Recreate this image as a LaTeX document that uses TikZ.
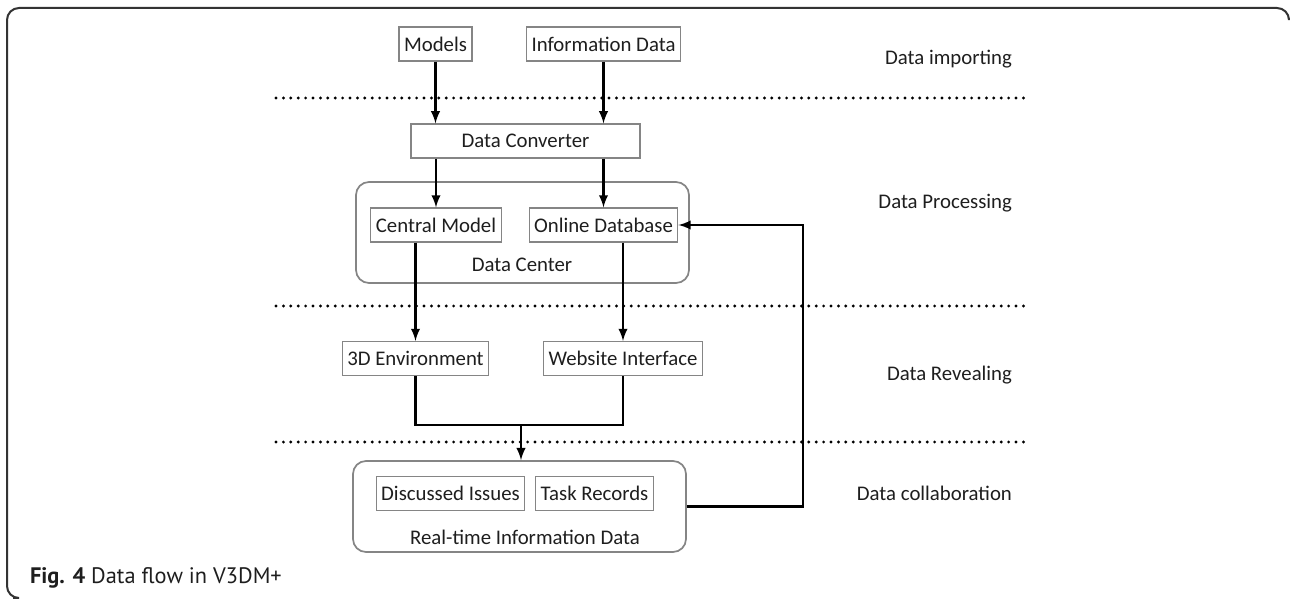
\documentclass[tikz,border=0pt]{standalone}
\usepackage{fontspec}
\setmainfont{Carlito}
\newfontfamily\capfont{PT Sans}
\usepackage{tikz}
\usetikzlibrary{arrows,shapes}
\definecolor{boxgray}{HTML}{858585}
\definecolor{txtgray}{HTML}{1E1E1E}
\tikzstyle{block}=[draw=boxgray,line width=0.55pt,minimum height=17pt,inner xsep=2.5pt,text=txtgray,font=\fontsize{10.4}{12}\selectfont]
\tikzstyle{group}=[draw=boxgray,line width=0.85pt,rounded corners=6.5pt]
\tikzstyle{caption}=[text=txtgray,font=\fontsize{10.4}{12}\selectfont]
\tikzstyle{link} = [draw,line width=1.1pt,-latex]
\tikzstyle{divider} = [draw,line width=1.6pt,dash pattern=on 0pt off 3.7pt,line cap=round]

\begin{document}
\begin{tikzpicture}[x=0.5pt,y=-0.5pt]
    \useasboundingbox (0,0) rectangle (1290,599);
    % Outer frame of the figure
    \draw[line width=1pt,black!80,rounded corners=6pt] (13,598) -- (7,598) -- (7,8) -- (1289,8) -- (1289,18);
    % Layer separators and layer names
    \foreach \y in {98,306,442}
        \path[divider] (276,\y) -- (1027,\y);
    \foreach \y/\txt in {59/Data importing, 203/Data Processing, 375/Data Revealing, 493/Data collaboration}
        \node[caption,anchor=east] (phase\y) at (1019,\y) {\txt};
    % Rounded containers first
    \node[group,minimum width=166.5pt,minimum height=50.5pt] (dc) at (522.5,232.5) {};
    \node[group,minimum width=166.5pt,minimum height=45.5pt] (rt) at (519.5,506.5) {};
    \node[caption] (dclabel) at (522,265) {Data Center};
    \node[caption] (rtlabel) at (525,537) {Real-time Information Data};
    % Then the boxes
    \foreach \pos/\name/\txt in {{(435.5,44)/models/Models}, {(603.5,44)/info/Information Data},
        {(436,225)/cmodel/Central Model}, {(603.5,225)/odb/Online Database},
        {(415.5,358.5)/env/3D Environment}, {(623,358.5)/web/Website Interface},
        {(450.5,493.5)/issues/Discussed Issues}, {(594.5,493.5)/tasks/Task Records}}
        \node[block] (\name) at \pos {\txt};
    \node[block,minimum width=114.5pt] (conv) at (525.5,141) {Data Converter};
    % Connect boxes with arrows
    \foreach \source/\dest in {models/conv, info/conv}
        \path[link] (\source.south) -- (\source.south |- \dest.north);
    \foreach \source/\dest in {conv/cmodel, conv/odb, cmodel/env, odb/web}
        \path[link] (\dest.north |- \source.south) -- (\dest.north);
    \coordinate (join) at (521,425);
    \draw[line width=1.1pt] (env.south) |- (join) -| (web.south);
    \path[link] (join) -- (join |- rt.north);
    \coordinate (back) at (803,0);
    \path[link] (rt.east) -| (back |- odb.east) -- (odb.east);
    % Caption
    \node[anchor=base west,font=\capfont\fontsize{11.2}{13}\selectfont,text=txtgray] (figcap) at (23,583) {\textbf{Fig. 4} Data flow in V3DM+};
\end{tikzpicture}
\end{document}
